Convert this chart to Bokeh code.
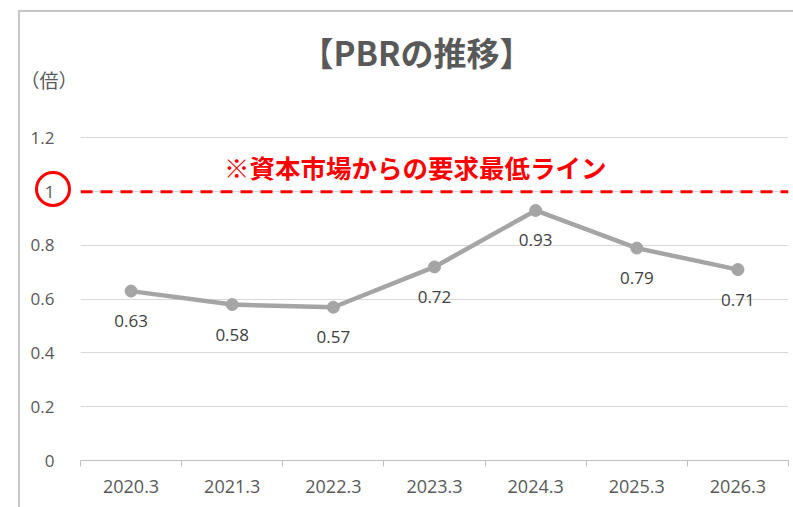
from bokeh.plotting import figure
from bokeh.models import (Range1d, FixedTicker, CustomJSTickFormatter, Span, Label,
                          ColumnDataSource, Title, InlineStyleSheet)
from bokeh.core.properties import value
from bokeh.embed import file_html
from bokeh.resources import INLINE

# ---- data ----
categories = ["2020.3", "2021.3", "2022.3", "2023.3", "2024.3", "2025.3", "2026.3"]
pbr = [0.63, 0.58, 0.57, 0.72, 0.93, 0.79, 0.71]
pbr_labels = ["0.63", "0.58", "0.57", "0.72", "0.93", "0.79", "0.71"]
y_ticks = [0, 0.2, 0.4, 0.6, 0.8, 1.0, 1.2]
required_line = 1.0
title_text = "【PBRの推移】"
unit_text = "（倍）"
note_text = "※資本市場からの要求最低ライン"

xs = list(range(len(categories)))
src = ColumnDataSource(dict(x=xs, y=pbr, lab=pbr_labels))

NUM_FONT = "Open Sans"
JP_FONT = "Noto Sans CJK JP"
GRAY = "#595959"

p = figure(width=793, height=507, output_backend="svg", toolbar_location=None,
           x_range=Range1d(-0.5, len(categories) - 0.5), y_range=Range1d(0, 1.2125),
           min_border_left=80, min_border_right=5, min_border_top=134, min_border_bottom=47)
p.outline_line_color = None
p.background_fill_color = "white"
p.border_fill_color = "white"

# chart-area border (left/top edges) and the red ring around the "1" tick, overlaid on the canvas;
# negative margins keep the page itself from overflowing (no scrollbars)
decor_css = """
:host {
  position: relative;
  margin-right: -16px !important;
  margin-bottom: -16px !important;
}
:host::before {
  content: "";
  position: absolute;
  left: 18px; top: 10px; right: 0; bottom: 0;
  border-left: 2px solid #c6c6c6;
  border-top: 2px solid #c6c6c6;
  box-sizing: border-box;
  pointer-events: none;
  z-index: 50;
}
:host::after {
  content: "";
  position: absolute;
  left: 35px; top: 170.5px; width: 36px; height: 36px;
  border: 3px solid #ff0000;
  border-radius: 50%;
  box-sizing: border-box;
  pointer-events: none;
  z-index: 51;
}
"""
sheets = [InlineStyleSheet(css=decor_css)]
try:
    from bokeh.models import GlobalInlineStyleSheet
    sheets.append(GlobalInlineStyleSheet(css="html, body { overflow: hidden !important; }"))
except Exception:
    pass
p.stylesheets = sheets

# y axis
p.yaxis.ticker = FixedTicker(ticks=y_ticks)
p.yaxis.formatter = CustomJSTickFormatter(code="return String(Math.round(tick*10)/10)")
p.yaxis.axis_line_color = None
p.yaxis.major_tick_line_color = None
p.yaxis.minor_tick_line_color = None
p.yaxis.major_label_standoff = 20
p.yaxis.major_label_text_font = NUM_FONT
p.yaxis.major_label_text_font_size = "17px"
p.yaxis.major_label_text_color = GRAY
p.ygrid.ticker = FixedTicker(ticks=y_ticks)
p.ygrid.grid_line_color = "#d9d9d9"
p.ygrid.grid_line_width = 1

# x axis
p.xgrid.grid_line_color = None
p.xaxis.ticker = FixedTicker(ticks=xs, minor_ticks=[i - 0.5 for i in range(len(categories) + 1)])
p.xaxis.major_label_overrides = {i: c for i, c in enumerate(categories)}
p.xaxis.major_tick_line_color = None
p.xaxis.major_tick_out = 0
p.xaxis.major_tick_in = 0
p.xaxis.minor_tick_line_color = "#bfbfbf"
p.xaxis.minor_tick_out = 6
p.xaxis.minor_tick_in = 0
p.xaxis.axis_line_color = "#bfbfbf"
p.xaxis.axis_line_width = 1
p.xaxis.major_label_standoff = 13
p.xaxis.major_label_text_font = NUM_FONT
p.xaxis.major_label_text_font_size = "18px"
p.xaxis.major_label_text_color = GRAY

# required line
p.add_layout(Span(location=required_line, dimension="width", line_color="#ff0000",
                  line_width=3, line_dash="12 8"))

# series
p.line("x", "y", source=src, line_color="#a5a5a5", line_width=4.5)
p.scatter("x", "y", source=src, size=12, fill_color="#a5a5a5", line_color="#a5a5a5")
p.text("x", "y", text="lab", source=src, y_offset=30, text_align="center",
       text_baseline="middle", text_font=value(NUM_FONT), text_font_size="17px",
       text_color="#404040")

# titles (above the plot area): first added sits closest to the frame
unit_title = Title(text=unit_text, align="left", offset=-60, standoff=84,
                   text_font=JP_FONT, text_font_style="normal", text_font_size="19px",
                   text_color=GRAY)
main_title = Title(text=title_text, align="left", offset=220, standoff=0,
                   text_font=JP_FONT, text_font_style="bold", text_font_size="33px",
                   text_color=GRAY)
try:
    main_title.standoff = -108
except Exception:
    unit_title.standoff = 44
p.add_layout(unit_title, "above")
p.add_layout(main_title, "above")

# note above the required line
p.add_layout(Label(x=2.81, y=1.092, text=note_text, text_align="center", text_baseline="middle",
                   text_font=JP_FONT, text_font_style="bold", text_font_size="25.5px",
                   text_color="#ff0000"))

open("out.html", "w").write(file_html(p, INLINE))
